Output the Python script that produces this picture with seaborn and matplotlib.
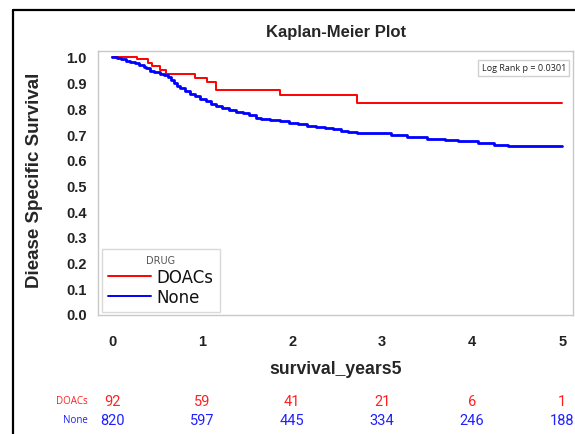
import matplotlib
matplotlib.use("Agg")
import matplotlib.pyplot as plt
import matplotlib.transforms as mtransforms
from matplotlib.lines import Line2D
import seaborn as sns
import pandas as pd

# ---- data ----
doacs_time = [0.00, 0.28, 0.40, 0.44, 0.53, 0.60, 0.92, 1.05, 1.15, 1.87, 2.72, 5.00]
doacs_surv = [1.000, 0.991, 0.978, 0.964, 0.951, 0.935, 0.919, 0.903, 0.872, 0.852, 0.821, 0.821]

none_time = [0.00, 0.05, 0.10, 0.15, 0.20, 0.26, 0.30, 0.35, 0.38, 0.42, 0.47, 0.53,
             0.58, 0.62, 0.66, 0.69, 0.72, 0.76, 0.81, 0.87, 0.92, 0.98, 1.04, 1.10,
             1.16, 1.22, 1.30, 1.38, 1.45, 1.52, 1.60, 1.66, 1.76, 1.86, 1.96, 2.06,
             2.16, 2.26, 2.36, 2.45, 2.54, 2.62, 2.72, 3.10, 3.28, 3.50, 3.70, 3.84,
             4.06, 4.24, 4.40, 5.00]
none_surv = [1.000, 0.995, 0.990, 0.985, 0.980, 0.975, 0.970, 0.962, 0.955, 0.945, 0.940, 0.934,
             0.928, 0.920, 0.910, 0.898, 0.888, 0.878, 0.868, 0.857, 0.848, 0.838, 0.827, 0.817,
             0.810, 0.803, 0.795, 0.787, 0.781, 0.775, 0.764, 0.757, 0.753, 0.750, 0.743, 0.739,
             0.733, 0.728, 0.723, 0.718, 0.713, 0.709, 0.705, 0.698, 0.689, 0.681, 0.676, 0.672,
             0.665, 0.659, 0.652, 0.652]

risk_times = [0, 1, 2, 3, 4, 5]
risk_doacs = [92, 59, 41, 21, 6, 1]
risk_none = [820, 597, 445, 334, 246, 188]

x_ticks = [0, 1, 2, 3, 4, 5]
y_ticks = [0.0, 0.1, 0.2, 0.3, 0.4, 0.5, 0.6, 0.7, 0.8, 0.9, 1.0]

groups = ["DOACs", "None"]
colors = {"DOACs": "#ff0000", "None": "#0000ff"}
widths = {"DOACs": 1.4, "None": 2.0}

df = pd.concat([
    pd.DataFrame({"time": doacs_time, "surv": doacs_surv, "DRUG": "DOACs"}),
    pd.DataFrame({"time": none_time, "surv": none_surv, "DRUG": "None"}),
], ignore_index=True)

sns.set_style("white")
plt.rcParams["font.family"] = ["DejaVu Sans"]
ARIAL = ["Liberation Sans", "DejaVu Sans"]

W, H = 575, 435
fig = plt.figure(figsize=(W / 100, H / 100), dpi=100)

ax_l, ax_r, ax_t, ax_b = 98, 573, 52, 316
ax = fig.add_axes([ax_l / W, 1 - ax_b / H, (ax_r - ax_l) / W, (ax_b - ax_t) / H])

for g in groups:
    sub = df[df["DRUG"] == g]
    sns.lineplot(data=sub, x="time", y="surv", ax=ax, color=colors[g],
                 linewidth=widths[g], drawstyle="steps-post", label=g,
                 estimator=None, sort=False)

ax.set_xlim(-0.156, 5.12)
ax.set_ylim(-0.004, 1.023)
ax.set_xticks(x_ticks)
ax.set_xticklabels([str(v) for v in x_ticks])
ax.set_yticks(y_ticks)
ax.set_yticklabels([f"{v:.1f}" for v in y_ticks])
ax.tick_params(axis="both", direction="out", length=6, width=1, color="#a8a8a8",
               labelsize=10.5, labelcolor="#222222")
ax.tick_params(axis="y", pad=2)
ax.tick_params(axis="x", pad=8)
for lab in ax.get_xticklabels() + ax.get_yticklabels():
    lab.set_family(ARIAL)
    lab.set_fontweight("bold")
for s in ax.spines.values():
    s.set_visible(True)
    s.set_color("#c8c8c8")
    s.set_linewidth(1.0)
ax.set_xlabel("")
ax.set_ylabel("")

leg = ax.legend(title="DRUG", loc="lower left", bbox_to_anchor=(0.008, 0.011),
                fontsize=12, title_fontsize=7, frameon=True, fancybox=False,
                edgecolor="#d0d0d0", handlelength=2.6, handletextpad=0.35,
                borderpad=0.35, labelspacing=0.15, borderaxespad=0)
leg.get_frame().set_linewidth(1.0)
leg.get_title().set_color("#555555")
for txt in leg.get_texts():
    txt.set_color("#111111")
for line in leg.get_lines():
    line.set_linewidth(1.4)

ax.text(0.985, 0.936, "Log Rank p = 0.0301", transform=ax.transAxes,
        ha="right", va="center", fontsize=6.5, family=["Open Sans", "DejaVu Sans"],
        color="#222222",
        bbox=dict(boxstyle="square,pad=0.35", facecolor="white", edgecolor="#d0d0d0", linewidth=1.0))

fig.text(336 / W, 1 - 32 / H, "Kaplan-Meier Plot", ha="center", va="center",
         fontsize=12, fontweight="bold", family=ARIAL)
fig.text(35 / W, 1 - 180 / H, "Diease Specific Survival", ha="center", va="center",
         rotation=90, fontsize=13.5, fontweight="bold", family=ARIAL)
fig.text(336 / W, 1 - 370 / H, "survival_years5", ha="center", va="center",
         fontsize=12.7, fontweight="bold", family=ARIAL)

# risk table
trans = mtransforms.blended_transform_factory(ax.transData, fig.transFigure)
y_d = 1 - 402 / H
y_n = 1 - 421 / H
fig.text(88 / W, y_d, "DOACs", ha="right", va="center", fontsize=7, color="#ff2020",
         family=["Open Sans", "DejaVu Sans"])
fig.text(88 / W, y_n, "None", ha="right", va="center", fontsize=7, color="#2020ff",
         family=["Open Sans", "DejaVu Sans"])
for t, a, b in zip(risk_times, risk_doacs, risk_none):
    ax.text(t, y_d, str(a), transform=trans, ha="center", va="center", fontsize=10.5,
            color="#ff2020", family=["Roboto", "DejaVu Sans"], clip_on=False)
    ax.text(t, y_n, str(b), transform=trans, ha="center", va="center", fontsize=10.5,
            color="#2020ff", family=["Roboto", "DejaVu Sans"], clip_on=False)

# screenshot frame (left and top)
fig.add_artist(Line2D([12.5 / W, 12.5 / W], [0, 1 - 11 / H], color="black", linewidth=1.6,
                      transform=fig.transFigure))
fig.add_artist(Line2D([12.5 / W, 1], [1 - 11 / H, 1 - 11 / H], color="black", linewidth=1.6,
                      transform=fig.transFigure))

fig.savefig("out.png", dpi=100)
